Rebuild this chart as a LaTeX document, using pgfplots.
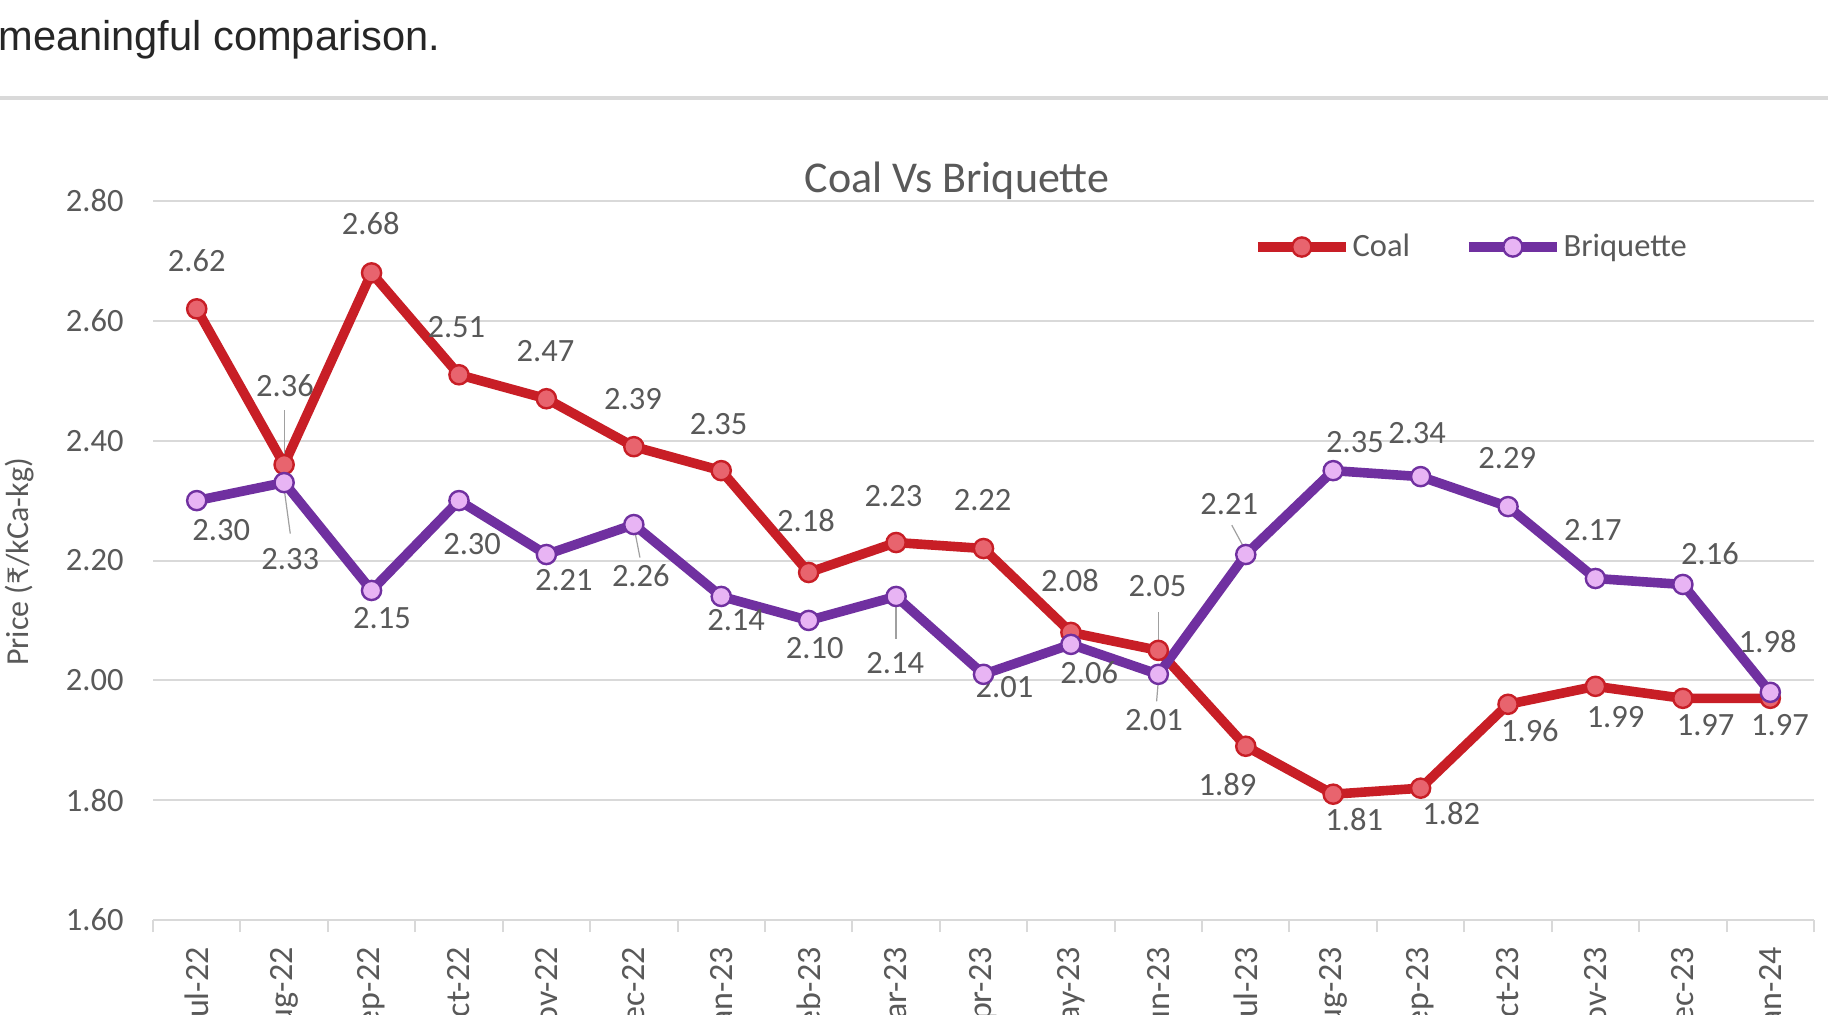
\documentclass[border=0pt]{standalone}
\usepackage{fontspec}
\setmainfont{Carlito}
\newfontfamily\arialf{Liberation Sans}
\newfontfamily\rupeef{DejaVu Sans}
\usepackage{pgfplots}
\pgfplotsset{compat=1.18}
\definecolor{coal}{RGB}{200,30,38}
\definecolor{coalfill}{RGB}{232,100,110}
\definecolor{briq}{RGB}{112,48,160}
\definecolor{briqfill}{RGB}{232,180,244}
\definecolor{txtgray}{RGB}{89,89,89}
\definecolor{gridgray}{RGB}{217,217,217}
\definecolor{leader}{RGB}{160,160,160}
\newcommand{\sm}{\fontsize{16.25bp}{19bp}\selectfont}
\tikzset{lbl/.style={font=\sm, text=txtgray, inner sep=0pt}}
\begin{document}
\begin{tikzpicture}
\path[use as bounding box] (0,0) rectangle (914bp,-507.5bp);
\clip (0,0) rectangle (914bp,-507.5bp);
\fill[white] (0,0) rectangle (914bp,-507.5bp);
\node[anchor=base west, inner sep=0pt, text=black!85, font=\arialf\fontsize{20.8bp}{25bp}\selectfont] at (-1bp,-25bp) {meaningful comparison.};
\draw[line width=2bp, color=gray!30] (0,-49bp) -- (914bp,-49bp);
\node[text=txtgray, font=\fontsize{22bp}{26bp}\selectfont, inner sep=0pt] at (478.5bp,-90.5bp) {Coal Vs Briquette};
\node[text=txtgray, font=\fontsize{16bp}{19bp}\selectfont, inner sep=0pt, rotate=90] at (10bp,-281bp) {Price ({\rupeef\fontsize{14bp}{18bp}\selectfont ₹}/kCa-kg)};
\begin{axis}[
  at={(76.5bp,-460bp)}, anchor=south west,
  scale only axis, width=830.5bp, height=359.5bp,
  xmin=-0.5, xmax=18.5, ymin=1.6, ymax=2.8,
  clip=false,
  axis line style={draw=none},
  ymajorgrids, grid style={gridgray, line width=1bp},
  ytick={1.6,1.8,2.0,2.2,2.4,2.6,2.8},
  ytick style={draw=none},
  xtick={0,...,18},
  xticklabels={Jul-22,Aug-22,Sep-22,Oct-22,Nov-22,Dec-22,Jan-23,Feb-23,Mar-23,Apr-23,May-23,Jun-23,Jul-23,Aug-23,Sep-23,Oct-23,Nov-23,Dec-23,Jan-24},
  minor xtick={-0.5,0.5,...,18.5},
  major tick length=0pt, minor tick length=6bp,
  tick align=outside, tick pos=left,
  xtick style={draw=gridgray, line width=1bp},
  /pgf/number format/fixed, /pgf/number format/fixed zerofill,
  /pgf/number format/precision=2, /pgf/number format/assume math mode=true,
  ticklabel style={font=\sm, text=txtgray, inner sep=0pt},
  yticklabel shift=14.5bp,
  xticklabel shift=13.5bp,
  xticklabel style={rotate=90, anchor=east, font=\fontsize{17bp}{19bp}\selectfont},
  legend style={at={(0.662,0.936)}, anchor=west, draw=none, fill=none, font=\sm, text=txtgray,
    legend columns=2, inner sep=0pt, nodes={inner sep=1bp},
    /tikz/every even column/.append style={column sep=26bp}},
  legend image code/.code={\draw[mark repeat=2,mark phase=2,#1] plot coordinates {(0bp,0bp) (22bp,0bp) (44bp,0bp)};},
]
\addplot[coal, line width=4.8bp, mark=*, mark size=4.8bp, mark options={fill=coalfill, draw=coal, line width=1.2bp}] coordinates {
(0,2.62) (1,2.36) (2,2.68) (3,2.51) (4,2.47) (5,2.39) (6,2.35) (7,2.18) (8,2.23) (9,2.22)
(10,2.08) (11,2.05) (12,1.89) (13,1.81) (14,1.82) (15,1.96) (16,1.99) (17,1.97) (18,1.97)};
\addlegendentry{Coal}
\addplot[briq, line width=4.8bp, mark=*, mark size=4.8bp, mark options={fill=briqfill, draw=briq, line width=1.2bp}] coordinates {
(0,2.30) (1,2.33) (2,2.15) (3,2.30) (4,2.21) (5,2.26) (6,2.14) (7,2.10) (8,2.14) (9,2.01)
(10,2.06) (11,2.01) (12,2.21) (13,2.35) (14,2.34) (15,2.29) (16,2.17) (17,2.16) (18,1.98)};
\addlegendentry{Briquette}
% leader lines
\draw[leader, line width=0.6bp] (axis cs:1.0,2.451) -- (axis cs:1.0,2.37);
\draw[leader, line width=0.6bp] (axis cs:1.0,2.32) -- (axis cs:1.07,2.245);
\draw[leader, line width=0.6bp] (axis cs:11,2.114) -- (axis cs:11,2.06);
\draw[leader, line width=0.6bp] (axis cs:11,2.00) -- (axis cs:10.98,1.965);
\draw[leader, line width=0.6bp] (axis cs:8,2.13) -- (axis cs:8,2.069);
\draw[leader, line width=0.6bp] (axis cs:11.84,2.259) -- (axis cs:11.97,2.224);
\draw[leader, line width=0.6bp] (axis cs:5.01,2.25) -- (axis cs:5.07,2.205);
% coal labels
\node[lbl] at (axis cs:0,2.70) {2.62};
\node[lbl] at (axis cs:1.01,2.492) {2.36};
\node[lbl] at (axis cs:1.99,2.763) {2.68};
\node[lbl] at (axis cs:2.97,2.590) {2.51};
\node[lbl] at (axis cs:3.99,2.549) {2.47};
\node[lbl] at (axis cs:4.99,2.469) {2.39};
\node[lbl] at (axis cs:5.97,2.428) {2.35};
\node[lbl] at (axis cs:6.97,2.266) {2.18};
\node[lbl] at (axis cs:7.97,2.307) {2.23};
\node[lbl] at (axis cs:8.99,2.301) {2.22};
\node[lbl] at (axis cs:9.99,2.167) {2.08};
\node[lbl] at (axis cs:10.99,2.157) {2.05};
\node[lbl] at (axis cs:11.79,1.826) {1.89};
\node[lbl] at (axis cs:13.24,1.767) {1.81};
\node[lbl] at (axis cs:14.35,1.777) {1.82};
\node[lbl] at (axis cs:15.25,1.916) {1.96};
\node[lbl] at (axis cs:16.23,1.939) {1.99};
\node[lbl] at (axis cs:17.26,1.925) {1.97};
\node[lbl] at (axis cs:18.11,1.925) {1.97};
% briquette labels
\node[lbl] at (axis cs:0.28,2.251) {2.30};
\node[lbl] at (axis cs:1.07,2.202) {2.33};
\node[lbl] at (axis cs:2.12,2.104) {2.15};
\node[lbl] at (axis cs:3.15,2.227) {2.30};
\node[lbl] at (axis cs:4.2,2.167) {2.21};
\node[lbl] at (axis cs:5.08,2.175) {2.26};
\node[lbl] at (axis cs:6.17,2.101) {2.14};
\node[lbl] at (axis cs:7.07,2.054) {2.10};
\node[lbl] at (axis cs:7.99,2.029) {2.14};
\node[lbl] at (axis cs:9.24,1.988) {2.01};
\node[lbl] at (axis cs:10.21,2.013) {2.06};
\node[lbl] at (axis cs:10.95,1.933) {2.01};
\node[lbl] at (axis cs:11.81,2.295) {2.21};
\node[lbl] at (axis cs:13.25,2.397) {2.35};
\node[lbl] at (axis cs:13.96,2.412) {2.34};
\node[lbl] at (axis cs:14.99,2.371) {2.29};
\node[lbl] at (axis cs:15.97,2.251) {2.17};
\node[lbl] at (axis cs:17.31,2.212) {2.16};
\node[lbl] at (axis cs:17.97,2.064) {1.98};
\end{axis}
\end{tikzpicture}
\end{document}
